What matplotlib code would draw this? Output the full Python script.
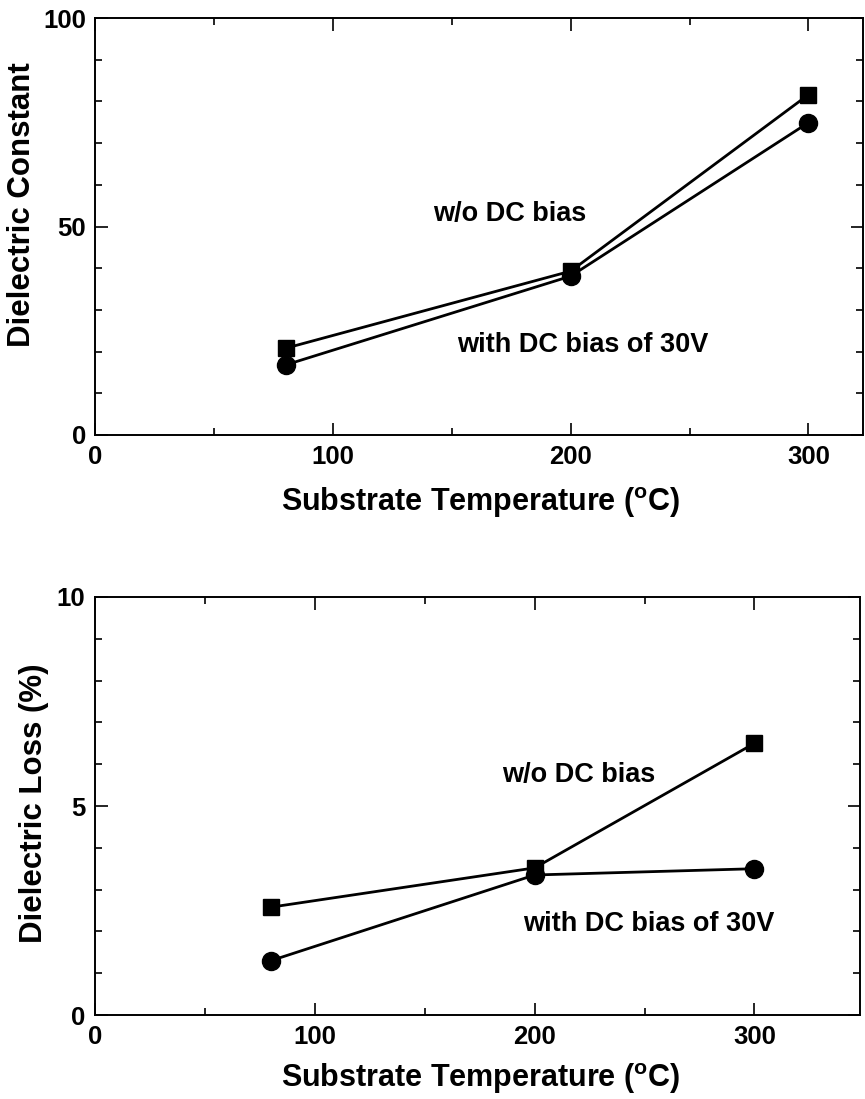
import matplotlib
matplotlib.use("Agg")
import matplotlib.pyplot as plt
from matplotlib.ticker import MultipleLocator

plt.rcParams["font.family"] = ["Liberation Sans", "DejaVu Sans"]
plt.rcParams["font.weight"] = "bold"
plt.rcParams["mathtext.fontset"] = "custom"
plt.rcParams["mathtext.rm"] = "Liberation Sans:bold"
plt.rcParams["mathtext.bf"] = "Liberation Sans:bold"

# data
temps = [80, 200, 300]
const_no_bias = [20.8, 39.3, 81.6]
const_bias = [16.8, 38.1, 74.9]
loss_no_bias = [2.58, 3.52, 6.5]
loss_bias = [1.3, 3.35, 3.5]

x_ticks = [0, 100, 200, 300]
XLABEL = "Substrate Temperature ($^{\\mathrm{o}}$C)"

fig = plt.figure(figsize=(8.65, 10.99), dpi=100)
ax1 = fig.add_axes([0.1104, 0.6042, 0.8873, 0.3794])
ax2 = fig.add_axes([0.1098, 0.0764, 0.8844, 0.3804])


def style_axes(ax, xmax, ymax, ymajor, yminor):
    ax.set_xlim(0, xmax)
    ax.set_ylim(0, ymax)
    ax.set_xticks(x_ticks)
    ax.xaxis.set_minor_locator(MultipleLocator(50))
    ax.yaxis.set_major_locator(MultipleLocator(ymajor))
    ax.yaxis.set_minor_locator(MultipleLocator(yminor))
    ax.tick_params(which="both", direction="in", top=True, right=True, width=1.2)
    ax.tick_params(which="major", length=9, pad=7)
    ax.tick_params(which="minor", length=5)
    for lab in ax.get_xticklabels() + ax.get_yticklabels():
        lab.set_fontsize(18.5)
        lab.set_fontweight("bold")
    for sp in ax.spines.values():
        sp.set_linewidth(1.4)


def draw(ax, a, b):
    ax.plot(temps, a, color="black", lw=2, marker="s", ms=11.5, clip_on=False)
    ax.plot(temps, b, color="black", lw=2, marker="o", ms=13, clip_on=False)


draw(ax1, const_no_bias, const_bias)
style_axes(ax1, 323, 100, 50, 10)
ax1.text(174.5, 53, "w/o DC bias", fontsize=19.5, fontweight="bold",
         ha="center", va="center")
ax1.text(258, 21.6, "with DC bias of 30V", fontsize=19.5, fontweight="bold",
         ha="right", va="center")

draw(ax2, loss_no_bias, loss_bias)
style_axes(ax2, 348, 10, 5, 1)
ax2.text(220, 5.74, "w/o DC bias", fontsize=19.5, fontweight="bold",
         ha="center", va="center")
ax2.text(309, 2.18, "with DC bias of 30V", fontsize=19.5, fontweight="bold",
         ha="right", va="center")

# axis titles placed by pixel position
fig.text(22 / 865, 1 - 205 / 1099, "Dielectric Constant", rotation=90,
         fontsize=22.5, fontweight="bold", ha="center", va="center")
fig.text(34 / 865, 1 - 803 / 1099, "Dielectric Loss (%)", rotation=90,
         fontsize=22.5, fontweight="bold", ha="center", va="center")
fig.text(481 / 865, 1 - 503 / 1099, XLABEL, fontsize=22,
         fontweight="bold", ha="center", va="center")
fig.text(481 / 865, 1 - 1079 / 1099, XLABEL, fontsize=22,
         fontweight="bold", ha="center", va="center")

fig.savefig("out.png", dpi=100)
